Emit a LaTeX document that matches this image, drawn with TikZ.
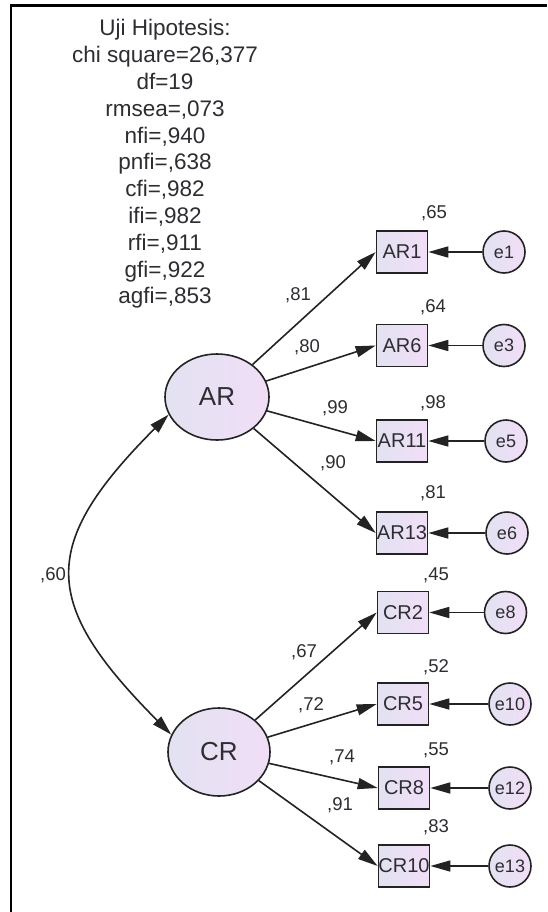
\documentclass[tikz,border=0pt]{standalone}
\usepackage{fontspec}
\setmainfont{Liberation Sans}
\usetikzlibrary{arrows.meta,shapes.geometric}
\definecolor{lavL}{RGB}{226,226,241}
\definecolor{lavR}{RGB}{241,222,247}
\definecolor{ink}{RGB}{35,35,35}
\definecolor{txt}{RGB}{45,45,50}
\begin{document}
\begin{tikzpicture}[x=1pt,y=1pt,
  shade/.style={left color=lavL, right color=lavR},
  latent/.style={ellipse, draw=ink, line width=1.6pt, shade, minimum width=104pt, minimum height=86pt, inner sep=0pt, font=\fontsize{26}{26}\selectfont, text=txt},
  obs/.style={rectangle, draw=ink, line width=1.6pt, shade, minimum width=51pt, minimum height=42pt, inner sep=0pt, font=\fontsize{20}{20}\selectfont, text=txt},
  err/.style={circle, draw=ink, line width=1.6pt, shade, minimum size=42pt, inner sep=0pt, font=\fontsize{18}{18}\selectfont, text=txt},
  lab/.style={font=\fontsize{18.5}{18.5}\selectfont, text=txt, inner sep=0pt},
  arr/.style={-{Triangle[length=20pt,width=11pt]}, line width=1.6pt, draw=ink},
  darr/.style={{Triangle[length=20pt,width=11pt]}-{Triangle[length=20pt,width=11pt]}, line width=1.6pt, draw=ink},
]
\useasboundingbox (0,0) rectangle (547,-912);
\fill[white] (0,0) rectangle (547,-912);
\draw[line width=2.5pt, black] (11,-912) -- (11,-5.3) -- (547,-5.3);

\node[align=center, font=\fontsize{22.5}{26.8}\selectfont, text=txt, inner sep=0pt] (title) at (165,-164)
 {Uji Hipotesis:\\chi square=26,377\\df=19\\rmsea=,073\\nfi=,940\\pnfi=,638\\cfi=,982\\ifi=,982\\rfi=,911\\gfi=,922\\agfi=,853};

% latent variables
\node[latent] (AR) at (217,-397) {AR};
\node[latent, minimum width=102pt, minimum height=88pt] (CR) at (219,-752) {CR};

% observed
\node[obs] (AR1) at (402,-252) {AR1};
\node[obs] (AR6) at (402,-345.5) {AR6};
\node[obs] (AR11) at (402,-441) {AR11};
\node[obs] (AR13) at (402,-533) {AR13};
\node[obs] (CR2) at (403,-612.5) {CR2};
\node[obs] (CR5) at (403,-704) {CR5};
\node[obs] (CR8) at (404,-788) {CR8};
\node[obs] (CR10) at (404,-866) {CR10};

% errors
\node[err] (e1) at (504,-252) {e1};
\node[err] (e3) at (504,-345.5) {e3};
\node[err] (e5) at (506,-441) {e5};
\node[err] (e6) at (507,-533) {e6};
\node[err] (e8) at (505.5,-612.5) {e8};
\node[err] (e10) at (510,-704) {e10};
\node[err] (e12) at (510,-788) {e12};
\node[err] (e13) at (510,-866) {e13};

% loadings
\foreach \b in {AR1,AR6,AR11,AR13} \draw[arr] (AR) -- (\b.west);
\foreach \b in {CR2,CR5,CR8,CR10} \draw[arr] (CR) -- (\b.west);

% error arrows
\draw[arr] (e1) -- (AR1);
\draw[arr] (e3) -- (AR6);
\draw[arr] (e5) -- (AR11);
\draw[arr] (e6) -- (AR13);
\draw[arr] (e8) -- (CR2);
\draw[arr] (e10) -- (CR5);
\draw[arr] (e12) -- (CR8);
\draw[arr] (e13) -- (CR10);

% covariance
\draw[darr] (AR.200) .. controls (38,-545.5) and (41,-603.5) .. (CR.160);

% labels
\node[lab] (r65) at (434,-213) {,65};
\node[lab] (l81) at (298,-295) {,81};
\node[lab] (r64) at (433,-307) {,64};
\node[lab] (l80) at (307,-347) {,80};
\node[lab] (l99) at (335,-408) {,99};
\node[lab] (r98) at (433,-403) {,98};
\node[lab] (l90) at (333,-463) {,90};
\node[lab] (r81) at (433,-493) {,81};
\node[lab] (c60) at (53,-575) {,60};
\node[lab] (r45) at (436,-575) {,45};
\node[lab] (l67) at (304,-652) {,67};
\node[lab] (r52) at (436,-667) {,52};
\node[lab] (l72) at (311,-705) {,72};
\node[lab] (l74) at (342,-757) {,74};
\node[lab] (r55) at (436,-750) {,55};
\node[lab] (l91) at (340,-805) {,91};
\node[lab] (r83) at (436,-827) {,83};
\end{tikzpicture}
\end{document}
